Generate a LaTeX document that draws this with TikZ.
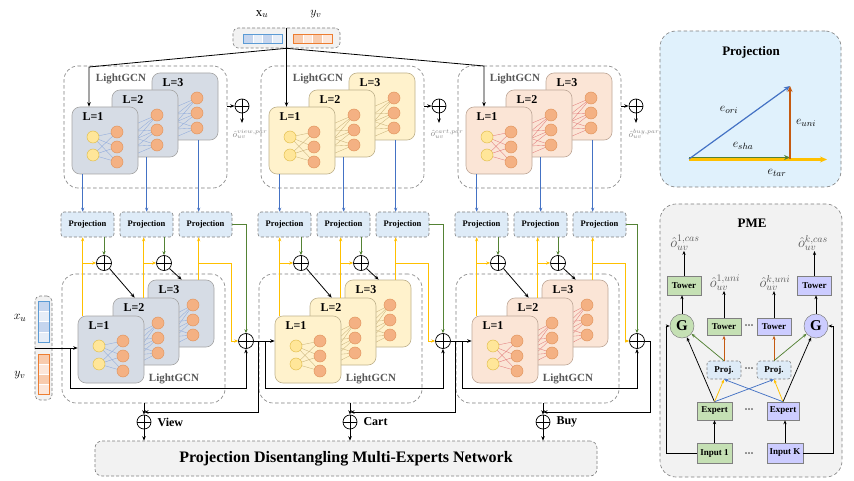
\documentclass[tikz,border=0pt]{standalone}
\usepackage{fontspec}
\setmainfont{Liberation Serif}
\usetikzlibrary{arrows.meta}
\definecolor{yel}{HTML}{FFC000}
\definecolor{grn}{HTML}{548235}
\definecolor{blu}{HTML}{4472C4}
\definecolor{org}{HTML}{C55A11}
\definecolor{projfill}{HTML}{DEEBF7}
\definecolor{grayfill}{HTML}{F2F2F2}
\definecolor{dashgray}{HTML}{7F7F7F}
\definecolor{txtgray}{HTML}{595959}
\definecolor{lblgray}{HTML}{808080}
\definecolor{gvf}{HTML}{D6DCE5}\definecolor{gvd}{HTML}{A6A6A6}\definecolor{gve}{HTML}{8FAADC}
\definecolor{gcf}{HTML}{FFF2CC}\definecolor{gcd}{HTML}{BFB28C}\definecolor{gce}{HTML}{C9B37A}
\definecolor{gbf}{HTML}{FBE5D6}\definecolor{gbd}{HTML}{BFA898}\definecolor{gbe}{HTML}{E27A7A}
\definecolor{onf}{HTML}{F4B183}\definecolor{ond}{HTML}{E2965F}
\definecolor{ynf}{HTML}{FFE699}\definecolor{ynd}{HTML}{E3C050}
\definecolor{pmeg}{HTML}{C5E0B4}\definecolor{pmep}{HTML}{CCCCFF}
\definecolor{panelblue}{HTML}{E0F1FC}
\definecolor{barblue}{HTML}{5B9BD5}\definecolor{cellb1}{HTML}{C5D5EE}\definecolor{cellb2}{HTML}{E6EDF7}
\definecolor{barorg}{HTML}{ED7D31}\definecolor{cello1}{HTML}{F8CBAD}\definecolor{cello2}{HTML}{FCE6D9}
\tikzset{
 arr/.style={-{Stealth[length=4.5pt,width=3.5pt]}, line width=0.8pt},
 carr/.style={-{Stealth[length=4pt,width=3.2pt]}, line width=0.75pt},
 grp/.style={draw=dashgray, dashed, dash pattern=on 3.5pt off 2.5pt, rounded corners=14pt, line width=0.6pt, inner sep=0pt},
 lbox/.style={rounded corners=8pt, minimum width=66pt, minimum height=67pt, inner sep=0pt, line width=0.6pt, draw=g#1d, fill=g#1f},
 ltext/.style={font=\fontsize{12}{12}\selectfont\bfseries, inner sep=0pt},
 gtext/.style={font=\fontsize{11}{11}\selectfont\bfseries, text=txtgray, inner sep=0pt},
 onode/.style={circle, fill=onf, draw=ond, minimum size=12pt, inner sep=0pt, line width=0.5pt},
 ynode/.style={circle, fill=ynf, draw=ynd, minimum size=12pt, inner sep=0pt, line width=0.5pt},
 nedge/.style={draw=g#1e, line width=0.35pt},
 projbox/.style={draw=dashgray, dashed, dash pattern=on 3pt off 2pt, fill=projfill, rounded corners=3pt, minimum width=53pt, minimum height=25pt, font=\fontsize{8.5}{9}\selectfont\bfseries, inner sep=0pt, line width=0.6pt},
 oplus/.style={circle, draw, line width=0.7pt, minimum size=#1, inner sep=0pt,
   path picture={\draw[line width=0.7pt] (path picture bounding box.north) -- (path picture bounding box.south) (path picture bounding box.west) -- (path picture bounding box.east);}},
 oplus/.default=14pt,
 parlabel/.style={font=\fontsize{9}{9}\selectfont, text=lblgray, inner sep=0pt},
 panel/.style={draw=dashgray, dashed, dash pattern=on 3.5pt off 2.5pt, rounded corners=16pt, line width=0.6pt, inner sep=0pt},
 ptitle/.style={font=\fontsize{13}{13}\selectfont\bfseries, inner sep=0pt},
 pbox/.style={draw=gray, line width=0.5pt, minimum width=34pt, minimum height=19pt, inner sep=0pt, font=\fontsize{9}{9}\selectfont\bfseries},
 psmall/.style={draw=dashgray, dashed, dash pattern=on 2.5pt off 2pt, fill=projfill, rounded corners=3pt, minimum width=34pt, minimum height=18pt, inner sep=0pt, font=\fontsize{9}{9}\selectfont\bfseries, line width=0.6pt},
 gnode/.style={circle, draw=gray, line width=0.5pt, minimum size=24pt, inner sep=0pt, font=\fontsize{15}{15}\selectfont\bfseries},
 glabel/.style={font=\fontsize{14}{14}\selectfont, text=txtgray, inner sep=0pt},
 dots/.style={font=\fontsize{9}{9}\selectfont\bfseries, inner sep=0pt},
 elabel/.style={font=\fontsize{13}{13}\selectfont, inner sep=0pt},
 inbar/.style={draw=dashgray, dashed, dash pattern=on 3pt off 2pt, fill=grayfill, rounded corners=5pt, line width=0.6pt, inner sep=0pt},
 pdmn/.style={draw=dashgray, dashed, dash pattern=on 3pt off 2pt, fill=grayfill, rounded corners=7pt, line width=0.6pt, minimum width=502pt, minimum height=35pt, font=\fontsize{16}{16}\selectfont\bfseries},
 outlbl/.style={font=\fontsize{12}{12}\selectfont\bfseries, inner sep=0pt, anchor=west}
}
\newcommand{\gcnstack}[6]{%
\pgfmathsetmacro\xa{#2}\pgfmathsetmacro\ya{#3}%
\pgfmathsetmacro\xb{#2+(#4)}\pgfmathsetmacro\yb{#3+(#5)}%
\pgfmathsetmacro\xc{#2+2*(#4)}\pgfmathsetmacro\yc{#3+2*(#5)}%
\foreach \i/\dd in {1/25,2/40,3/55}{%
 \coordinate (#1a\i) at (\xa+45,\ya+\dd);
 \coordinate (#1b\i) at (\xb+45,\yb+\dd);
 \coordinate (#1c\i) at (\xc+45,\yc+\dd);}
\coordinate (#1y1) at (\xa+21,\ya+30);
\coordinate (#1y2) at (\xa+21,\ya+48);
\node[lbox=#6] (#1L3) at (\xc+33,\yc+33.5) {};
\node[ltext] (#1L3t) at (\xc+21,\yc+10) {L=3};
\foreach \i in {1,2,3}{\foreach \j in {1,2,3}{\draw[nedge=#6] (#1b\i) -- (#1c\j);}}
\foreach \i in {1,2,3}{\node[onode] (#1L3n\i) at (#1c\i) {};}
\node[lbox=#6] (#1L2) at (\xb+33,\yb+33.5) {};
\node[ltext] (#1L2t) at (\xb+21,\yb+10) {L=2};
\foreach \i in {1,2,3}{\foreach \j in {1,2,3}{\draw[nedge=#6] (#1a\i) -- (#1b\j);}}
\foreach \i in {1,2,3}{\node[onode] (#1L2n\i) at (#1b\i) {};}
\node[lbox=#6] (#1L1) at (\xa+33,\ya+33.5) {};
\node[ltext] (#1L1t) at (\xa+21,\ya+10) {L=1};
\foreach \i in {1,2}{\foreach \j in {1,2,3}{\draw[nedge=#6] (#1y\i) -- (#1a\j);}}
\foreach \i in {1,2,3}{\node[onode] (#1L1n\i) at (#1a\i) {};}
\foreach \i in {1,2}{\node[ynode] (#1L1y\i) at (#1y\i) {};}
}
\newcommand{\drawcolumn}[5]{%
\pgfmathsetmacro\ox{#2}%
\node[grp, minimum width=163pt, minimum height=122pt] (#1TG) at (\ox+145.5,127) {};
\node[gtext] (#1TGt) at (\ox+121,79) {LightGCN};
\gcnstack{#1T}{\ox+72}{107}{40}{-17}{#3}%
\node[oplus] (#1TO) at (\ox+242,106) {};
\draw[arr] (#1TG.east |- #1TO) -- (#1TO.west);
\coordinate (#1TOe) at (\ox+242,123);
\draw[arr] (#1TO.south) -- (#1TOe);
\node[parlabel] (#1TOl) at (\ox+250,134) {$\hat{o}_{uv}^{#4,par}$};
\node[projbox] (#1P1) at (\ox+87.5,224.5) {Projection};
\node[projbox] (#1P2) at (\ox+146.5,224.5) {Projection};
\node[projbox] (#1P3) at (\ox+205.5,224.5) {Projection};
\coordinate (#1k1) at ([xshift=11pt]#1TL1.south west);
\coordinate (#1k2) at ([xshift=35pt]#1TL2.south west);
\coordinate (#1k3) at ([xshift=47pt]#1TL3.south west);
\draw[carr,blu] (#1k1) -- (#1k1 |- #1P1.north);
\draw[carr,blu] (#1k2) -- (#1k2 |- #1P2.north);
\draw[carr,blu] (#1k3) -- (#1k3 |- #1P3.north);
\node[grp, minimum width=163pt, minimum height=129pt] (#1BG) at (\ox+143.5,338.5) {};
\node[gtext] (#1BGt) at (\ox+174,379) {LightGCN};
\gcnstack{#1B}{\ox+78}{316}{35}{-18}{#3}%
\node[oplus=15pt] (#1C1) at (\ox+104,263) {};
\node[oplus=15pt] (#1C2) at (\ox+164,263) {};
\node[oplus=15pt] (#1M) at (#5,341) {};
\coordinate (#1u1) at ([xshift=5pt]#1BL1.north west);
\coordinate (#1u2) at ([xshift=31pt]#1BL2.north west);
\coordinate (#1u3) at ([xshift=51pt]#1BL3.north west);
\draw[carr,yel] (#1u1) -- (#1u1 |- #1P1.south);
\draw[carr,yel] (#1u2) -- (#1u2 |- #1P2.south);
\draw[carr,yel] (#1u3) -- (#1u3 |- #1P3.south);
\draw[carr,yel] (#1u1 |- #1C1) -- (#1C1.west);
\draw[carr,yel] (#1u2 |- #1C2) -- (#1C2.west);
\coordinate (#1uk) at (\ox+231,263);
\draw[carr,yel] (#1u3 |- #1C1) -- (#1uk) |- (#1M.west);
\draw[carr,grn] (#1P1.south -| #1C1) -- (#1C1.north);
\draw[carr,grn] (#1P2.south -| #1C2) -- (#1C2.north);
\draw[carr,grn] (#1P3.east) -| (#1M.north);
\draw[arr] (#1C1.south east) -- ([xshift=22pt]#1BL2.north west);
\draw[arr] (#1C2.south east) -- ([xshift=34pt]#1BL3.north west);
}
\begin{document}
\begin{tikzpicture}[x=1pt,y=-1pt]
\useasboundingbox (0,0) rectangle (854,481);
\fill[white] (0,0) rectangle (854,481);
% columns
\drawcolumn{v}{0}{v}{view}{246}
\drawcolumn{c}{197}{c}{cart}{443}
\drawcolumn{b}{394}{b}{buy}{637}
% top input bar
\node[inbar, minimum width=107pt, minimum height=20pt] (TB) at (286.5,38) {};
\foreach \k in {0,1,2,3}{%
 \pgfmathsetmacro\cc{mod(\k,2)==0 ? 1 : 2}
 \fill[cellb\cc] (243+\k*9.75,34) rectangle ++(9.75,9);
 \fill[cello\cc] (293+\k*9.75,34) rectangle ++(9.75,9);
 \draw[white, line width=0.4pt] (243+\k*9.75,34) -- ++(0,9);
 \draw[white, line width=0.4pt] (293+\k*9.75,34) -- ++(0,9);}
\draw[barblue, line width=0.6pt] (243,34) rectangle (282,43);
\draw[barorg, line width=0.6pt] (293,34) rectangle (332,43);
\draw[line width=0.6pt] (TB.north) -- (TB.south);
\node[elabel] (TBx) at (262,14) {$\mathrm{x}_u$};
\node[elabel] (TBy) at (316,14) {$y_v$};
\coordinate (tl) at (89,67);
\coordinate (tr) at (484,66);
\draw[arr] (TB.south) -- (TB.south |- cTL1.north);
\draw[arr] (TB.south) -- (tl) -- (tl |- vTL1.north);
\draw[arr] (TB.south) -- (tr) -- (tr |- bTL1.north);
% left input bar
\node[inbar, minimum width=17pt, minimum height=104pt] (LB) at (43.5,348) {};
\foreach \k in {0,1,2,3}{%
 \pgfmathsetmacro\cc{mod(\k,2)==0 ? 1 : 2}
 \fill[cellb\cc] (38,301+\k*10.25) rectangle ++(11,10.25);
 \fill[cello\cc] (38,354+\k*10) rectangle ++(11,10);
 \draw[white, line width=0.4pt] (38,301+\k*10.25) -- ++(11,0);
 \draw[white, line width=0.4pt] (38,354+\k*10) -- ++(11,0);}
\draw[barblue, line width=0.6pt] (38,301) rectangle (49,342);
\draw[barorg, line width=0.6pt] (38,354) rectangle (49,394);
\draw[line width=0.6pt] (LB.west) -- (LB.east);
\node[elabel] (LBx) at (20,318) {$x_u$};
\node[elabel] (LBy) at (20,375) {$y_v$};
\draw[arr] (LB.east) -- (LB.east -| vBL1.west);
\coordinate (lp) at (70,348);
\coordinate (lq) at (70,388);
\draw[arr] (lp) -- (lq) -| (vM.south);
% stage connections
\draw[arr] (vM.east) -- (vM.east -| cBL1.west);
\draw[arr] (cM.east) -- (cM.east -| bBL1.west);
\coordinate (vb1) at (258,341); \coordinate (vb2) at (265,341);
\coordinate (vh) at (258,412); \coordinate (vl) at (265,388);
\coordinate (cb1) at (455,341); \coordinate (cb2) at (462,341);
\coordinate (ch) at (455,412); \coordinate (cl) at (462,388);
\coordinate (bb1) at (650,341); \coordinate (bh) at (650,412);
\draw[line width=0.8pt] (bM.east) -- (bb1);
\draw[arr] (vb2) -- (vl) -| (cM.south);
\draw[arr] (cb2) -- (cl) -| (bM.south);
% outputs
\node[oplus] (vO) at (144,422) {};
\node[oplus] (cO) at (350,422) {};
\node[oplus] (bO) at (543,422) {};
\draw[arr] (vBG.south -| vO) -- (vO.north);
\draw[arr] (cBG.south -| cO) -- (cO.north);
\draw[arr] (bBG.south -| bO) -- (bO.north);
\draw[arr] (vb1) -- (vh) -- (vh -| vO);
\draw[arr] (cb1) -- (ch) -- (ch -| cO);
\draw[arr] (bb1) -- (bh) -- (bh -| bO);
\node[outlbl] (vOl) at ([xshift=6pt]vO.east) {View};
\node[outlbl] (cOl) at ([xshift=6pt]cO.east) {Cart};
\node[outlbl] (bOl) at ([xshift=6pt]bO.east) {Buy};
\node[pdmn] (PD) at (346,458.5) {Projection Disentangling Multi-Experts Network};
\draw[arr] (vO.south) -- (vO.south |- PD.north);
\draw[arr] (cO.south) -- (cO.south |- PD.north);
\draw[arr] (bO.south) -- (bO.south |- PD.north);
% Projection panel
\node[panel, fill=panelblue, minimum width=181pt, minimum height=156pt] (PJ) at (750.5,109) {};
\node[ptitle] (PJt) at (751,52) {Projection};
\coordinate (pO) at (689,159);
\coordinate (pA) at (790,86);
\coordinate (pB) at (790,159);
\coordinate (pT) at (827,159.5);
\draw[yel, line width=2.2pt, -{Stealth[length=7pt,width=6pt]}] (689,159.5) -- (pT);
\draw[grn, line width=1.3pt, -{Stealth[length=6pt,width=5pt]}] (689,157.5) -- (790,157.5);
\draw[blu, line width=1.2pt, -{Stealth[length=6pt,width=5pt]}] (pO) -- (pA);
\draw[org, line width=2pt, -{Stealth[length=6pt,width=5pt]}] (pB) -- (pA);
\node[elabel] (eori) at (729,110) {$e_{ori}$};
\node[elabel] (euni) at (806,123) {$e_{uni}$};
\node[elabel] (esha) at (743,146) {$e_{sha}$};
\node[elabel] (etar) at (777,173) {$e_{tar}$};
% PME panel
\node[panel, fill=grayfill, minimum width=182pt, minimum height=273pt] (PME) at (751,340.5) {};
\node[ptitle] (PMEt) at (752,223) {PME};
\node[glabel] (oc1) at (685,243) {$\hat{o}_{uv}^{1,cas}$};
\node[glabel] (oc2) at (813,243) {$\hat{o}_{uv}^{k,cas}$};
\node[pbox, fill=pmeg] (Tc1) at (684,285.5) {Tower};
\node[pbox, fill=pmep] (Tc2) at (814.5,285.5) {Tower};
\node[gnode, fill=pmeg] (G1) at (682,326) {G};
\node[gnode, fill=pmep] (G2) at (816,326) {G};
\node[glabel] (ou1) at (725,283) {$\hat{o}_{uv}^{1,uni}$};
\node[glabel] (ou2) at (775,283) {$\hat{o}_{uv}^{k,uni}$};
\node[pbox, fill=pmeg, minimum height=17pt] (Tu1) at (724,327) {Tower};
\node[pbox, fill=pmep, minimum height=17pt] (Tu2) at (774,327) {Tower};
\node[dots] (d1) at (749,327) {···};
\node[psmall] (Pr1) at (724,370) {Proj.};
\node[psmall] (Pr2) at (774,370) {Proj.};
\node[dots] (d2) at (749,370) {···};
\node[pbox, fill=pmeg, minimum width=35pt, minimum height=18pt] (E1) at (714.5,411) {Expert};
\node[pbox, fill=pmep, minimum width=32pt, minimum height=18pt] (E2) at (783,411) {Expert};
\node[dots] (d3) at (749,411) {···};
\node[pbox, fill=pmeg, minimum width=35pt, minimum height=20pt] (I1) at (714.5,453) {Input 1};
\node[pbox, fill=pmep, minimum width=36pt, minimum height=20pt] (I2) at (785,453) {Input K};
\node[dots] (d4) at (749,455) {···};
\draw[carr] (Tc1.north) -- (Tc1.north |- oc1.south);
\draw[carr] (Tc2.north) -- (Tc2.north |- oc2.south);
\draw[carr] (G1.north) -- (G1.north |- Tc1.south);
\draw[carr] (G2.north) -- (G2.north |- Tc2.south);
\draw[carr] (Tu1.north) -- (Tu1.north |- ou1.south);
\draw[carr] (Tu2.north) -- (Tu2.north |- ou2.south);
\draw[carr,org] (Pr1.north) -- (Tu1.south);
\draw[carr,org] (Pr2.north) -- (Tu2.south);
\draw[carr,grn] (Pr1.north) -- (G1);
\draw[carr,grn] (Pr2.north) -- (G2);
\draw[carr] (E1.north) -- (G1);
\draw[carr] (E2.north) -- (G2);
\draw[carr,yel] (E1.north) -- (Pr1.south);
\draw[carr,yel] (E2.north) -- (Pr2.south);
\draw[carr,blu] (E1.north) -- (Pr2.south);
\draw[carr,blu] (E2.north) -- (Pr1.south);
\draw[carr] (I1.north) -- (I1.north |- E1.south);
\draw[carr] (I2.north) -- (I2.north |- E2.south);
\coordinate (pl) at (666,453);
\coordinate (pr) at (833,453);
\draw[carr] (I1.west) -- (pl) |- (G1.west);
\draw[carr] (I2.east) -- (pr) |- (G2.east);
\end{tikzpicture}
\end{document}
